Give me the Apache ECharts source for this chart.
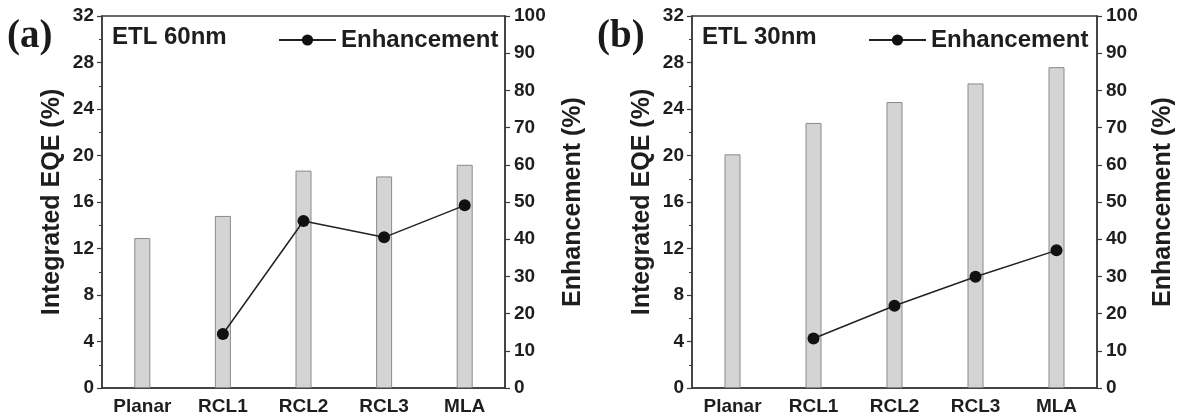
<!DOCTYPE html>
<html>
<head>
<meta charset="utf-8">
<script src="https://cdn.jsdelivr.net/npm/echarts@6/dist/echarts.min.js"></script>
<style>
html,body{margin:0;padding:0;background:#fff;}
#c{width:1177px;height:418px;}
</style>
</head>
<body>
<div id="c"></div>
<script>
const categories = ['Planar', 'RCL1', 'RCL2', 'RCL3', 'MLA'];
const eqeA = [12.9, 14.8, 18.7, 18.2, 19.2];
const enhA = [null, 14.5, 44.9, 40.5, 49.1];
const eqeB = [20.1, 22.8, 24.6, 26.2, 27.6];
const enhB = [null, 13.3, 22.1, 29.9, 37.0];
const panelLabels = ['(a)', '(b)'];
const etlLabels = ['ETL 60nm', 'ETL 30nm'];
const leftName = 'Integrated EQE (%)';
const rightName = 'Enhancement (%)';
const seriesName = 'Enhancement';

const FONT = '"Liberation Sans", Arial, sans-serif';
const AX = '#3a3a3a';
const TXT = '#1e1e1e';

const grids = [
  {left: 102, top: 16, width: 403, height: 372},
  {left: 692, top: 16, width: 405, height: 372}
];
const rightGaps = [56, 54];

function leftAxis(gi) {
  return {
    type: 'value', gridIndex: gi, min: 0, max: 32, interval: 4, position: 'left',
    name: leftName, nameLocation: 'middle', nameGap: 37,
    nameTextStyle: {fontFamily: FONT, fontWeight: 'bold', fontSize: 25, color: TXT},
    axisLine: {show: true, lineStyle: {color: AX, width: 1.5}},
    axisTick: {show: true, inside: false, length: 5, lineStyle: {color: AX, width: 1.2}},
    minorTick: {show: true, splitNumber: 2, length: 3, lineStyle: {color: AX, width: 1}},
    splitLine: {show: false},
    axisLabel: {margin: 8, fontFamily: FONT, fontWeight: 'bold', fontSize: 19, color: TXT}
  };
}
function rightAxis(gi) {
  return {
    type: 'value', gridIndex: gi, min: 0, max: 100, interval: 10, position: 'right',
    name: rightName, nameLocation: 'middle', nameGap: rightGaps[gi],
    nameTextStyle: {fontFamily: FONT, fontWeight: 'bold', fontSize: 25, color: TXT},
    axisLine: {show: true, lineStyle: {color: AX, width: 1.5}},
    axisTick: {show: true, inside: false, length: 5, lineStyle: {color: AX, width: 1.2}},
    splitLine: {show: false},
    axisLabel: {margin: 9, fontFamily: FONT, fontWeight: 'bold', fontSize: 19, color: TXT}
  };
}
function xAxis(gi) {
  return {
    type: 'category', gridIndex: gi, data: categories,
    axisLine: {show: true, lineStyle: {color: AX, width: 1.5}},
    axisTick: {show: false},
    splitLine: {show: false},
    axisLabel: {margin: 9, fontFamily: FONT, fontWeight: 'bold', fontSize: 19, color: TXT, interval: 0}
  };
}
function barSeries(gi, data) {
  return {
    type: 'bar', xAxisIndex: gi, yAxisIndex: gi * 2, data: data, barWidth: 16,
    itemStyle: {color: '#d4d4d4', borderColor: '#8a8a8a', borderWidth: 1},
    silent: true
  };
}
function lineSeries(gi, data) {
  return {
    type: 'line', name: seriesName, xAxisIndex: gi, yAxisIndex: gi * 2 + 1, data: data,
    symbol: 'circle', symbolSize: 12, connectNulls: false,
    lineStyle: {color: '#222', width: 1.5},
    itemStyle: {color: '#111'},
    z: 5
  };
}

const chart = echarts.init(document.getElementById('c'), null, {renderer: 'canvas'});
chart.setOption({
  animation: false,
  backgroundColor: '#fff',
  grid: grids.map(g => Object.assign({show: true, borderColor: AX, borderWidth: 1.5, backgroundColor: 'transparent'}, g)),
  xAxis: [xAxis(0), xAxis(1)],
  yAxis: [leftAxis(0), rightAxis(0), leftAxis(1), rightAxis(1)],
  legend: [0, 1].map(gi => ({
    data: [seriesName], left: grids[gi].left + 176, top: 28, padding: 0,
    itemWidth: 57, itemHeight: 14, itemGap: 6,
    textStyle: {fontFamily: FONT, fontWeight: 'bold', fontSize: 24, color: TXT},
    selectedMode: false
  })),
  graphic: [0, 1].flatMap(gi => [
    {type: 'text', left: grids[gi].left - 95, top: 17,
     style: {text: panelLabels[gi], font: 'bold 39px "Liberation Serif", "Times New Roman", serif', fill: '#1a1a1a'}},
    {type: 'text', left: grids[gi].left + 10, top: 25,
     style: {text: etlLabels[gi], font: 'bold 24px ' + FONT, fill: TXT}}
  ]),
  series: [barSeries(0, eqeA), lineSeries(0, enhA), barSeries(1, eqeB), lineSeries(1, enhB)]
});
</script>
</body>
</html>
